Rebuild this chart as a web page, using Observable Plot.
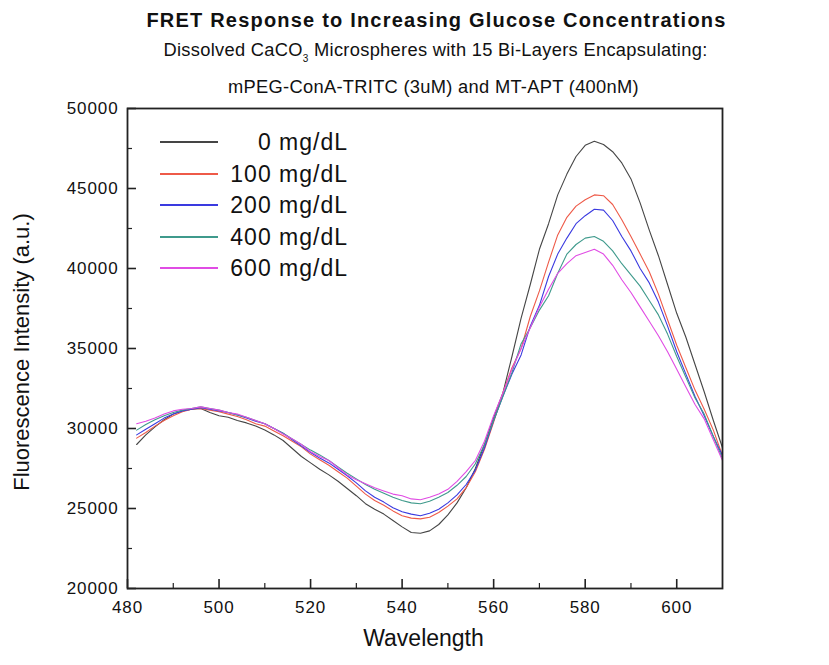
<!DOCTYPE html>
<html><head><meta charset="utf-8">
<script src="https://cdn.jsdelivr.net/npm/d3@7"></script>
<script src="https://cdn.jsdelivr.net/npm/@observablehq/plot@0.6"></script>
<style>
body{margin:0;background:#fff;}
#wrap{position:relative;width:829px;height:665px;font-family:"Liberation Sans",Arial,sans-serif;color:#111;}
.t{position:absolute;left:0;width:829px;text-align:center;white-space:pre;line-height:1;}
#chart{position:absolute;left:0;top:0;}
.leg{position:absolute;}
</style></head><body><div id="wrap">
<div id="chart"></div>
<div class="t" style="top:10px;left:22px;font-size:20px;font-weight:bold;letter-spacing:1.2px;">FRET Response to Increasing Glucose Concentrations</div>
<div class="t" style="top:41px;left:21px;font-size:18.3px;letter-spacing:0.3px;">Dissolved CaCO<span style="font-size:10px;position:relative;top:6px;">3</span> Microspheres with 15 Bi-Layers Encapsulating:</div>
<div class="t" style="top:78px;left:19px;font-size:18.3px;letter-spacing:0.3px;">mPEG-ConA-TRITC (3uM) and MT-APT (400nM)</div>
<div class="t" style="top:627px;left:9px;font-size:23px;">Wavelength</div>
<div style="position:absolute;left:22px;top:352px;transform:translate(-50%,-50%) rotate(-90deg);font-size:22px;white-space:nowrap;">Fluorescence Intensity (a.u.)</div>
<div id="legend"></div>
</div>
<script>
const wavelengths = [482,484,486,488,490,492,494,496,498,500,502,504,506,508,510,512,514,516,518,520,522,524,526,528,530,532,534,536,538,540,542,544,546,548,550,552,554,556,558,560,562,564,566,568,570,572,574,576,578,580,582,584,586,588,590,592,594,596,598,600,602,604,606,608,610];
const seriesNames = ["0 mg/dL","100 mg/dL","200 mg/dL","400 mg/dL","600 mg/dL"];
const seriesColors = ["#454545","#ee5a48","#3a3ae0","#3f9a8c","#e04ce4"];
const s0 = [29000,29600,30100,30550,30900,31100,31200,31250,31000,30800,30700,30500,30350,30150,29900,29600,29250,28750,28250,27850,27450,27100,26700,26250,25800,25300,24950,24650,24250,23850,23500,23450,23600,24000,24600,25350,26300,27500,29000,30700,32200,34500,36900,39000,41200,42800,44600,45900,47000,47700,47950,47750,47300,46600,45600,44100,42400,40800,39000,37200,35700,34000,32300,30500,28800];
const s100 = [29400,29750,30150,30500,30800,31050,31200,31250,31150,31050,30900,30750,30550,30300,30150,29850,29550,29200,28850,28400,28050,27700,27300,26900,26400,25900,25500,25200,24850,24550,24400,24350,24450,24750,25150,25600,26300,27300,28700,30400,32200,33800,35000,37000,38600,40400,42100,43200,43900,44300,44600,44550,44000,43050,42000,40900,39800,38400,36800,35200,33800,32400,31200,29900,28300];
const s200 = [29600,29950,30300,30650,30900,31100,31200,31300,31200,31100,31000,30850,30650,30450,30300,30000,29700,29300,28900,28500,28150,27850,27450,27050,26600,26100,25700,25400,25050,24800,24650,24550,24700,24950,25350,25850,26500,27400,28800,30500,32000,33400,34600,36400,37700,39500,40900,41900,42800,43300,43700,43650,43000,42000,41100,40000,39100,37900,36400,34800,33400,32000,30800,29500,28300];
const s400 = [29900,30250,30550,30800,31000,31150,31250,31350,31250,31150,31000,30850,30700,30500,30300,30000,29700,29350,29000,28650,28350,28000,27600,27200,26850,26500,26200,25950,25700,25500,25350,25300,25450,25700,26000,26450,27000,27800,29000,30500,32000,33500,35300,36300,37400,38300,39700,40900,41500,41900,42000,41700,41100,40300,39600,38900,38000,37100,35900,34500,33200,31900,30900,29500,28100];
const s600 = [30300,30450,30650,30900,31100,31200,31250,31350,31250,31150,31000,30900,30700,30500,30300,30000,29650,29350,29000,28550,28250,28000,27550,27100,26800,26550,26300,26100,25900,25800,25600,25550,25700,25900,26200,26700,27300,28000,29200,30800,32200,33700,35000,36300,37600,38700,39700,40300,40800,41000,41200,40900,40200,39300,38500,37600,36700,35800,34800,33700,32600,31500,30600,29300,28000];
const xMajor = [480,500,520,540,560,580,600];
const xMinor = [490,510,530,550,570,590];
const yMajor = [20000,25000,30000,35000,40000,45000,50000];
const yMinor = [22500,27500,32500,37500,42500,47500];

const seriesValues = [s0,s100,s200,s400,s600];
const tidy = [];
seriesNames.forEach((name,i)=>wavelengths.forEach((w,j)=>tidy.push({series:name, wl:w, v:seriesValues[i][j]})));

const W=829,H=665,ML=127,MR=107,MT=108,MB=77;
const pw=W-ML-MR, ph=H-MT-MB;
const chart = Plot.plot({
  width: W, height: H,
  marginLeft: ML, marginRight: MR, marginTop: MT, marginBottom: MB,
  style: {fontFamily: "'Liberation Sans',Arial,sans-serif", fontSize: "17px", letterSpacing: "0.9px", color: "#111", background: "transparent"},
  x: {domain: [480, 610]},
  y: {domain: [20000, 50000]},
  color: {domain: seriesNames, range: seriesColors},
  marks: [
    Plot.axisX({ticks: xMajor, tickSize: 0, tickPadding: 12, tickFormat: d3.format("d"), label: null}),
    Plot.axisY({ticks: yMajor, tickSize: 0, tickPadding: 9, tickFormat: d3.format("d"), label: null}),
    Plot.tickX(xMajor, {x: d=>d, insetTop: ph-9, stroke: "#222", strokeWidth: 1.6}),
    Plot.tickX(xMinor, {x: d=>d, insetTop: ph-5, stroke: "#222", strokeWidth: 1.2}),
    Plot.tickY(yMajor, {y: d=>d, insetRight: pw-9, stroke: "#222", strokeWidth: 1.6}),
    Plot.tickY(yMinor, {y: d=>d, insetRight: pw-5, stroke: "#222", strokeWidth: 1.2}),
    Plot.lineY(tidy, {x: "wl", y: "v", z: "series", stroke: "series", strokeWidth: 1.1}),
    Plot.frame({stroke: "#222", strokeWidth: 1.8})
  ]
});
document.getElementById("chart").appendChild(chart);

const leg = document.getElementById("legend");
seriesNames.forEach((name,i)=>{
  const y = 142 + 31.6*i;
  const line = document.createElement("div");
  line.className="leg";
  line.style.cssText = `left:160px;width:58px;top:${Math.round(y)-1}px;height:1.5px;background:${seriesColors[i]};`;
  leg.appendChild(line);
  const txt = document.createElement("div");
  txt.className="leg";
  txt.style.cssText = `left:200px;width:148px;top:${y-12}px;text-align:right;font-size:23px;letter-spacing:1px;line-height:24px;white-space:nowrap;`;
  txt.textContent = name;
  leg.appendChild(txt);
});
</script>
</body></html>
